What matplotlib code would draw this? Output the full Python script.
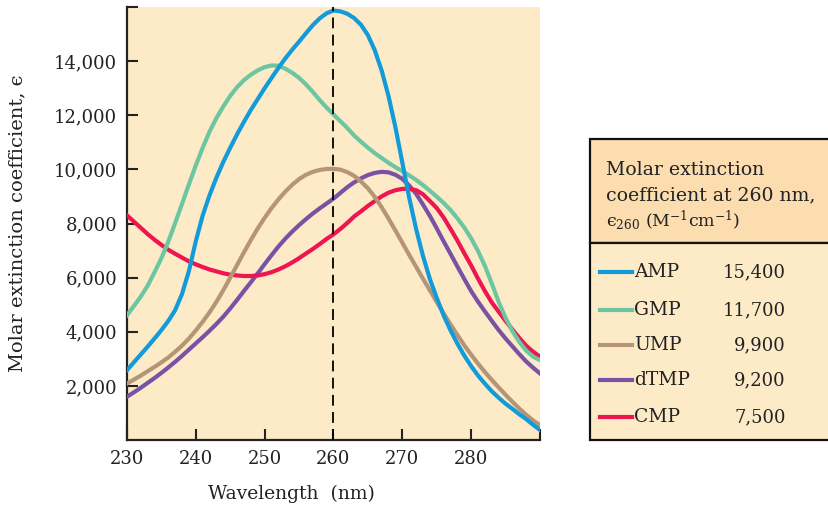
import matplotlib
matplotlib.use("Agg")
import matplotlib.pyplot as plt
from matplotlib.patches import Rectangle

plt.rcParams['font.family'] = ['DejaVu Serif', 'DejaVu Sans']
plt.rcParams['mathtext.fontset'] = 'dejavuserif'

# wavelength (nm), one reading per nm off the figure
wavelength = list(range(230, 291))

amp = [2580, 2870, 3160, 3450, 3750, 4060, 4400, 4800, 5400, 6250,
       7350, 8300, 9050, 9700, 10280, 10800, 11300, 11760, 12200, 12600,
       13000, 13380, 13750, 14100, 14420, 14720, 15030, 15330, 15580, 15770,
       15870, 15840, 15750, 15590, 15340, 14960, 14400, 13650, 12700, 11550,
       10250, 8950, 7800, 6800, 5950, 5250, 4600, 4050, 3560, 3120,
       2730, 2380, 2080, 1800, 1560, 1340, 1150, 950, 770, 560, 370]
gmp = [4610, 4950, 5300, 5700, 6200, 6720, 7330, 8020, 8730, 9450,
       10150, 10800, 11400, 11900, 12330, 12720, 13040, 13300, 13500, 13660,
       13780, 13840, 13830, 13720, 13570, 13380, 13140, 12860, 12560, 12280,
       12030, 11780, 11530, 11250, 11020, 10800, 10600, 10420, 10240, 10080,
       9930, 9780, 9610, 9420, 9210, 8990, 8760, 8500, 8190, 7850,
       7450, 6980, 6430, 5780, 5100, 4510, 4020, 3620, 3300, 3080, 2950]
ump = [2090, 2230, 2380, 2540, 2700, 2870, 3050, 3260, 3490, 3750,
       4050, 4370, 4720, 5110, 5540, 6000, 6470, 6940, 7390, 7820,
       8210, 8570, 8890, 9180, 9430, 9640, 9800, 9910, 9980, 10015,
       10020, 9990, 9900, 9760, 9550, 9300, 8980, 8600, 8180, 7740,
       7290, 6840, 6400, 5960, 5530, 5100, 4680, 4270, 3880, 3500,
       3150, 2820, 2510, 2220, 1940, 1670, 1410, 1160, 930, 720, 550]
dtmp = [1600, 1760, 1930, 2110, 2290, 2480, 2680, 2890, 3110, 3340,
        3570, 3800, 4040, 4290, 4560, 4860, 5180, 5510, 5830, 6160,
        6500, 6830, 7150, 7440, 7700, 7940, 8160, 8370, 8560, 8740,
        8920, 9130, 9340, 9520, 9670, 9790, 9870, 9910, 9890, 9800,
        9650, 9400, 9100, 8700, 8280, 7820, 7340, 6880, 6410, 5950,
        5500, 5110, 4750, 4400, 4060, 3750, 3460, 3170, 2900, 2670, 2460]
cmp_ = [8300, 8070, 7840, 7610, 7400, 7210, 7030, 6880, 6740, 6600,
        6490, 6390, 6300, 6230, 6160, 6110, 6080, 6060, 6060, 6080,
        6130, 6200, 6300, 6420, 6560, 6720, 6890, 7060, 7240, 7430,
        7600, 7800, 8020, 8260, 8450, 8650, 8830, 9000, 9140, 9230,
        9280, 9280, 9230, 9080, 8830, 8570, 8220, 7800, 7370, 6900,
        6450, 5960, 5500, 5080, 4740, 4400, 4080, 3770, 3480, 3260, 3080]

names = ['AMP', 'GMP', 'UMP', 'dTMP', 'CMP']
eps260 = ['15,400', '11,700', '9,900', '9,200', '7,500']
series = [amp, gmp, ump, dtmp, cmp_]
colors = ['#139BD9', '#6DC6A2', '#B59576', '#7A52A4', '#EE1550']

xticks = [230, 240, 250, 260, 270, 280, 290]
xticklabels = ['230', '240', '250', '260', '270', '280', '']
yticks = [2000, 4000, 6000, 8000, 10000, 12000, 14000, 16000]
yticklabels = ['2,000', '4,000', '6,000', '8,000', '10,000', '12,000', '14,000', '']

bg = '#FDEBC8'
W, H = 829, 507

fig = plt.figure(figsize=(W / 100, H / 100), dpi=100)
ax = fig.add_axes([127 / W, 1 - 440 / H, (540 - 127) / W, (440 - 7) / H])
ax.set_facecolor(bg)

# draw order so AMP ends on top like in the original
for i in [3, 4, 2, 1, 0]:
    ax.plot(wavelength, series[i], color=colors[i], lw=3, solid_joinstyle='round', zorder=3)

ax.axvline(260, color='black', lw=1.3, ls=(0, (6, 3.5)), zorder=4)

ax.set_xlim(230, 290)
ax.set_ylim(0, 16000)
ax.set_xticks(xticks)
ax.set_xticklabels(xticklabels)
ax.set_yticks(yticks)
ax.set_yticklabels(yticklabels)
ax.tick_params(direction='in', length=8, width=1.5, labelsize=13, colors='#222222', pad=7)
for s in ['top', 'right']:
    ax.spines[s].set_visible(False)
for s in ['left', 'bottom']:
    ax.spines[s].set_linewidth(1.6)
    ax.spines[s].set_color('#222222')

ax.set_xlabel('Wavelength  (nm)', fontsize=13.5, color='#222222')
ax.xaxis.set_label_coords((291 - 127) / 413, -(485 - 440) / 433)
ax.set_ylabel('Molar extinction coefficient, ϵ', fontsize=14, color='#222222')
ax.yaxis.set_label_coords((26 - 127) / 413, 0.5)

# legend box drawn in figure pixels
def fx(px):
    return px / W

def fy(py):
    return 1 - py / H

fig.patches.append(Rectangle((fx(590), fy(243)), fx(840) - fx(590), fy(139) - fy(243),
                             transform=fig.transFigure, facecolor='#FBDDB0',
                             edgecolor='#111111', lw=1.6, zorder=1))
fig.patches.append(Rectangle((fx(590), fy(440)), fx(840) - fx(590), fy(243) - fy(440),
                             transform=fig.transFigure, facecolor=bg,
                             edgecolor='#111111', lw=1.6, zorder=1))

fig.text(fx(606), fy(170), 'Molar extinction', fontsize=13.6, va='center', color='#222222')
fig.text(fx(606), fy(195), 'coefficient at 260 nm,', fontsize=13.6, va='center', color='#222222')
fig.text(fx(606), fy(220), r'ϵ$_{260}$ (M$^{-1}$cm$^{-1}$)', fontsize=12.5,
         va='center', color='#222222')

row_y = [272, 310, 345, 380, 417]
for name, val, c, yy in zip(names, eps260, colors, row_y):
    fig.lines.append(plt.Line2D([fx(600), fx(632)], [fy(yy), fy(yy)], color=c, lw=3,
                                transform=fig.transFigure))
    fig.text(fx(634), fy(yy), name, fontsize=13.5, va='center', color='#222222')
    fig.text(fx(786), fy(yy), val, fontsize=13, va='center', ha='right', color='#222222')

fig.savefig('out.png', dpi=100)
